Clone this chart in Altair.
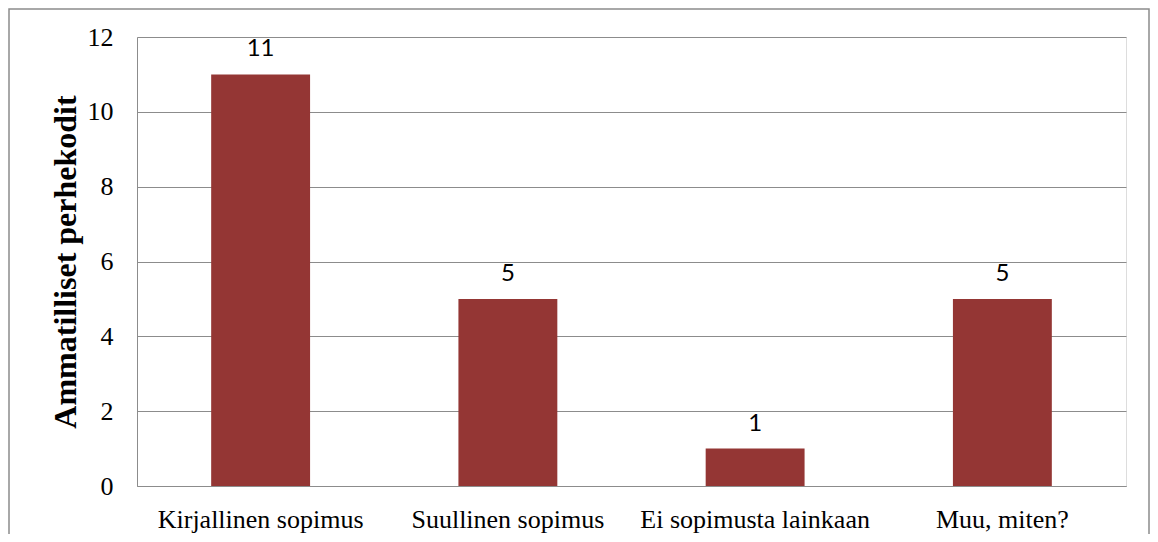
import altair as alt
import pandas as pd

categories = ["Kirjallinen sopimus", "Suullinen sopimus", "Ei sopimusta lainkaan", "Muu, miten?"]
values = [11, 5, 1, 5]
y_ticks = [0, 2, 4, 6, 8, 10, 12]

df = pd.DataFrame({"kategoria": categories, "arvo": values})

W, H = 989, 449
GRID = "#8c8c8c"

x_enc = alt.X(
    "kategoria:N",
    sort=categories,
    scale=alt.Scale(paddingInner=0.6, paddingOuter=0.3),
    axis=alt.Axis(
        title=None,
        labelAngle=0,
        labelFont="Liberation Serif",
        labelFontSize=26,
        labelColor="#000000",
        labelPadding=41,
        labelBaseline="alphabetic",
        labelLimit=0,
        ticks=False,
        domain=True,
        domainColor=GRID,
        domainWidth=1,
        grid=False,
    ),
)
y_enc = alt.Y(
    "arvo:Q",
    scale=alt.Scale(domain=[0, 12], nice=False),
    axis=alt.Axis(
        values=y_ticks,
        title="Ammatilliset perhekodit",
        titleFont="Liberation Serif",
        titleFontSize=32,
        titleFontWeight="bold",
        titleColor="#000000",
        titleAngle=270,
        titleAlign="center",
        titleBaseline="middle",
        titleX=-72,
        titleY=H / 2,
        labelFont="Liberation Serif",
        labelFontSize=26,
        labelColor="#000000",
        labelPadding=24,
        ticks=False,
        domain=True,
        domainColor=GRID,
        domainWidth=1,
        grid=True,
        gridColor=GRID,
        gridWidth=1.2,
    ),
)

bars = alt.Chart(df).mark_bar(color="#943634").encode(x=x_enc, y=y_enc)

labels = alt.Chart(df).mark_text(
    font="Lato", fontSize=24, color="#000000", baseline="alphabetic", dy=-18
).encode(
    x=alt.X("kategoria:N", sort=categories),
    y=alt.Y("arvo:Q"),
    text=alt.Text("arvo:Q"),
)

border = alt.Chart(pd.DataFrame({"k": [0]})).mark_rect(
    fill=None, stroke="#8c8c8c", strokeWidth=1.5
).encode(
    x=alt.value(-128), x2=alt.value(W + 23), y=alt.value(-28), y2=alt.value(H + 80)
)

chart = alt.layer(border, bars, labels).properties(
    width=W,
    height=H,
    autosize=alt.AutoSizeParams(type="none"),
    padding={"left": 129, "top": 29, "right": 24, "bottom": 48},
).configure_view(stroke=None).configure(background="#ffffff")

chart.save("out.html", embed_options={"renderer": "svg", "actions": False})
